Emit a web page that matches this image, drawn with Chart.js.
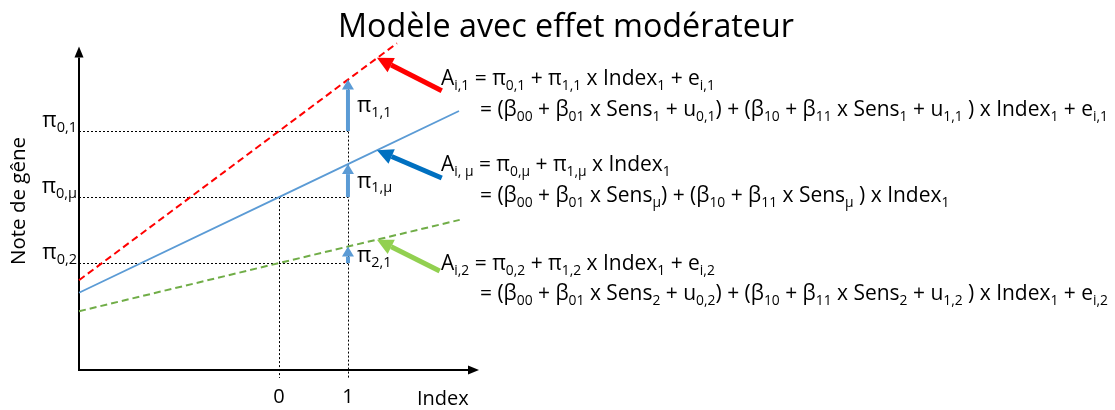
<!DOCTYPE html>
<html>
<head>
<meta charset="utf-8">
<script src="https://cdn.jsdelivr.net/npm/chart.js@4.4.0/dist/chart.umd.min.js"></script>
<style>
  html, body { margin: 0; padding: 0; background: #fff; }
  #wrap { width: 1115px; height: 410px; }
</style>
</head>
<body>
<div id="wrap"><canvas id="modele" width="1115" height="410"></canvas></div>
<script>
const FONT = '"Open Sans", "Noto Sans", sans-serif';

const indexTicks = [0, 1];
const indexTickLabels = ['0', '1'];

// three regression lines: group 1 (red), mean (blue), group 2 (green)
const redX = [-2.9, 0, 1, 1.71];
const redY = [1.36, 3.62, 4.40, 4.95];
const blueX = [-2.9, 0, 1, 2.61];
const blueY = [1.17, 2.62, 3.12, 3.925];
const greenX = [-2.9, 0, 1, 2.62];
const greenY = [0.89, 1.62, 1.87, 2.275];

// intercepts (Index = 0) and values at Index = 1
const intercepts = [3.62, 2.62, 1.62];
const valuesAtOne = [4.40, 3.12, 1.87];
const interceptLabels = ['π_{0,1}', 'π_{0,μ}', 'π_{0,2}'];
const slopeLabels = ['π_{1,1}', 'π_{1,μ}', 'π_{2,1}'];

// callout arrows pointing at each line
const calloutTailX = [2.36, 2.36, 2.33];
const calloutTailY = [4.23, 2.91, 1.50];
const calloutTipX = [1.42, 1.42, 1.42];
const calloutTipY = [4.73, 3.33, 1.975];
const calloutColors = ['#ff0000', '#0070c0', '#92d050'];

const equationsLine1 = [
  'A_{i,1} = π_{0,1} + π_{1,1} x Index_{1} + e_{i,1}',
  'A_{i, μ} = π_{0,μ} + π_{1,μ} x Index_{1}',
  'A_{i,2} = π_{0,2} + π_{1,2} x Index_{1} + e_{i,2}'
];
const equationsLine2 = [
  '= (β_{00} + β_{01} x Sens_{1} + u_{0,1}) + (β_{10} + β_{11} x Sens_{1} + u_{1,1} ) x Index_{1} + e_{i,1}',
  '= (β_{00} + β_{01} x Sens_{μ}) + (β_{10} + β_{11} x Sens_{μ} ) x Index_{1}',
  '= (β_{00} + β_{01} x Sens_{2} + u_{0,2}) + (β_{10} + β_{11} x Sens_{2} + u_{1,2} ) x Index_{1} + e_{i,2}'
];
const equationBaselines = [[85, 116], [171, 202], [270, 300]];

const SUB = 0.66;

function toPoints(xs, ys) {
  return xs.map((x, i) => ({ x: x, y: ys[i] }));
}

// split "a_{b}c" into normal and subscript runs
function parseRich(str) {
  const parts = [];
  const re = /_\{([^}]*)\}/g;
  let last = 0, m;
  while ((m = re.exec(str))) {
    if (m.index > last) parts.push({ t: str.slice(last, m.index), sub: false });
    parts.push({ t: m[1], sub: true });
    last = re.lastIndex;
  }
  if (last < str.length) parts.push({ t: str.slice(last), sub: false });
  return parts;
}

function richWidth(ctx, str, size) {
  let w = 0;
  parseRich(str).forEach(p => {
    ctx.font = (p.sub ? size * SUB : size) + 'px ' + FONT;
    w += ctx.measureText(p.t).width;
  });
  return w;
}

function drawRich(ctx, str, x, y, size, align) {
  const w = richWidth(ctx, str, size);
  let cx = align === 'right' ? x - w : (align === 'center' ? x - w / 2 : x);
  ctx.textAlign = 'left';
  ctx.textBaseline = 'alphabetic';
  parseRich(str).forEach(p => {
    const s = p.sub ? size * SUB : size;
    ctx.font = s + 'px ' + FONT;
    ctx.fillText(p.t, cx, p.sub ? y + size * 0.22 : y);
    cx += ctx.measureText(p.t).width;
  });
}

// rich text squeezed horizontally by sx (narrow face look)
function drawRichNarrow(ctx, str, x, y, size, sx) {
  ctx.save();
  ctx.translate(x, y);
  ctx.scale(sx, 1);
  drawRich(ctx, str, 0, 0, size, 'left');
  ctx.restore();
}

function arrow(ctx, x1, y1, x2, y2, width, headLen, headW, color) {
  const a = Math.atan2(y2 - y1, x2 - x1);
  const bx = x2 - headLen * Math.cos(a);
  const by = y2 - headLen * Math.sin(a);
  ctx.save();
  ctx.strokeStyle = color;
  ctx.fillStyle = color;
  ctx.lineWidth = width;
  ctx.setLineDash([]);
  ctx.beginPath();
  ctx.moveTo(x1, y1);
  ctx.lineTo(bx, by);
  ctx.stroke();
  ctx.beginPath();
  ctx.moveTo(x2, y2);
  ctx.lineTo(bx + headW / 2 * Math.sin(a), by - headW / 2 * Math.cos(a));
  ctx.lineTo(bx - headW / 2 * Math.sin(a), by + headW / 2 * Math.cos(a));
  ctx.closePath();
  ctx.fill();
  ctx.restore();
}

const diagramPlugin = {
  id: 'diagram',
  beforeDatasetsDraw(chart) {
    const ctx = chart.ctx;
    const xs = chart.scales.x, ys = chart.scales.y;
    const x0 = xs.getPixelForValue(xs.min);
    const y0 = ys.getPixelForValue(0);
    const xOne = xs.getPixelForValue(1);
    const xZero = xs.getPixelForValue(0);

    // dotted guides
    ctx.save();
    ctx.strokeStyle = '#000';
    ctx.lineWidth = 1;
    ctx.setLineDash([2, 2]);
    intercepts.forEach(v => {
      const py = Math.round(ys.getPixelForValue(v)) + 0.5;
      ctx.beginPath();
      ctx.moveTo(x0, py);
      ctx.lineTo(xOne, py);
      ctx.stroke();
    });
    ctx.beginPath();
    ctx.moveTo(Math.round(xZero) + 0.5, ys.getPixelForValue(intercepts[1]));
    ctx.lineTo(Math.round(xZero) + 0.5, y0 + 8);
    ctx.moveTo(Math.round(xOne) + 0.5, ys.getPixelForValue(valuesAtOne[0]));
    ctx.lineTo(Math.round(xOne) + 0.5, y0 + 8);
    ctx.stroke();
    ctx.restore();

    // axes with arrowheads
    arrow(ctx, x0, y0 + 1, x0, ys.getPixelForValue(4.9), 2, 11, 9, '#000');
    arrow(ctx, x0 - 1, y0, xs.getPixelForValue(xs.max), y0, 2, 11, 9, '#000');
  },
  afterDatasetsDraw(chart) {
    const ctx = chart.ctx;
    const xs = chart.scales.x, ys = chart.scales.y;
    const xOne = xs.getPixelForValue(1);

    // slope arrows at Index = 1
    intercepts.forEach((v, i) => {
      const yFrom = ys.getPixelForValue(v);
      const yTo = ys.getPixelForValue(valuesAtOne[i]);
      arrow(ctx, xOne, yFrom, xOne, yTo, 4, 10, 12, '#5b9bd5');
      ctx.fillStyle = '#000';
      drawRich(ctx, slopeLabels[i], xOne + 9, (yFrom + yTo) / 2 + 7, 22, 'left');
    });

    // intercept labels on the vertical axis
    ctx.fillStyle = '#000';
    intercepts.forEach((v, i) => {
      drawRich(ctx, interceptLabels[i], 77, ys.getPixelForValue(v) - 4, 22, 'right');
    });

    // x ticks
    ctx.font = '20px ' + FONT;
    ctx.textAlign = 'center';
    ctx.textBaseline = 'alphabetic';
    indexTicks.forEach((t, i) => {
      ctx.fillText(indexTickLabels[i], xs.getPixelForValue(t), 403);
    });
    ctx.textAlign = 'left';
    ctx.fillText('Index', 417, 405);

    // y title
    ctx.save();
    ctx.translate(19, 201);
    ctx.rotate(-Math.PI / 2);
    ctx.font = '20px ' + FONT;
    const tw = ctx.measureText('Note de gêne').width;
    ctx.font = (20 * 128 / tw) + 'px ' + FONT;
    ctx.textAlign = 'center';
    ctx.textBaseline = 'middle';
    ctx.fillText('Note de gêne', 0, 0);
    ctx.restore();

    // callout arrows
    calloutTailX.forEach((x, i) => {
      arrow(ctx, xs.getPixelForValue(x), ys.getPixelForValue(calloutTailY[i]),
        xs.getPixelForValue(calloutTipX[i]), ys.getPixelForValue(calloutTipY[i]),
        5, 16, 16, calloutColors[i]);
    });

    // equations
    const eqSize = 21.5;
    const sx = 628 / richWidth(ctx, equationsLine2[0], eqSize);
    ctx.fillStyle = '#000';
    equationsLine1.forEach((eq, i) => {
      drawRichNarrow(ctx, eq, 441, equationBaselines[i][0], eqSize, sx);
      drawRichNarrow(ctx, equationsLine2[i], 480, equationBaselines[i][1], eqSize, sx);
    });

    // title
    ctx.font = '32px ' + FONT;
    const ttw = ctx.measureText('Modèle avec effet modérateur').width;
    ctx.save();
    ctx.translate(566, 37);
    ctx.scale(456 / ttw, 1);
    ctx.textAlign = 'center';
    ctx.textBaseline = 'alphabetic';
    ctx.fillText('Modèle avec effet modérateur', 0, 0);
    ctx.restore();
  }
};

new Chart(document.getElementById('modele').getContext('2d'), {
  type: 'scatter',
  data: {
    datasets: [
      { data: toPoints(redX, redY), showLine: true, borderColor: '#ff0000', borderWidth: 2, borderDash: [7, 4], pointRadius: 0, clip: false },
      { data: toPoints(blueX, blueY), showLine: true, borderColor: '#5b9bd5', borderWidth: 1.8, pointRadius: 0, clip: false },
      { data: toPoints(greenX, greenY), showLine: true, borderColor: '#70ad47', borderWidth: 2, borderDash: [7, 4], pointRadius: 0, clip: false }
    ]
  },
  options: {
    responsive: false,
    animation: false,
    events: [],
    layout: { padding: { left: 79, right: 636, top: 33.4, bottom: 40 } },
    scales: {
      x: { type: 'linear', min: -2.9, max: 2.9, display: false },
      y: { type: 'linear', min: 0, max: 5.1, display: false }
    },
    plugins: { legend: { display: false }, tooltip: { enabled: false } }
  },
  plugins: [diagramPlugin]
});
</script>
</body>
</html>
